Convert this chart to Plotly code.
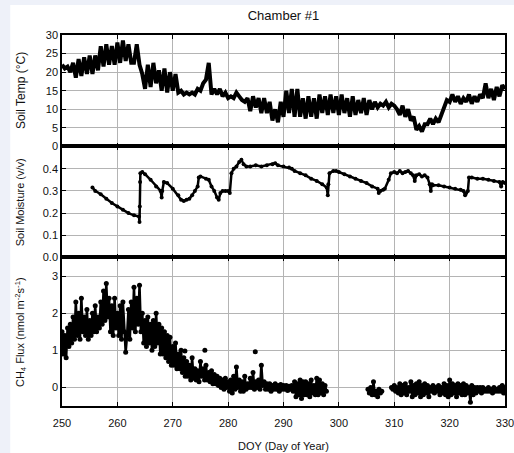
import plotly.graph_objects as go

# ---------------- data ----------------
# Soil temperature, sampled every half day from DOY 250 to 330
temp_doy = [250 + 0.5 * i for i in range(161)]
temp_c = [
    22, 21, 21.5, 20, 22.5, 18.5, 23.5, 19, 24, 19.5, 24.5, 19.5, 24.5, 20.5,
    27, 21.5, 27.5, 22, 27, 22, 28, 22.5, 28.5, 23, 27.5, 22.5, 22.5, 27.5,
    22, 19.5, 15.5, 22, 16, 22.5, 17, 20.5, 15, 21, 14.5, 20, 15, 19.5,
    14.5, 15, 14, 14.5, 14, 14.5, 14, 15.5, 15, 17, 18, 22.5, 14, 15.5,
    14, 15.5, 13.5, 14.5, 13, 13.5, 13, 14.5, 13.5, 12.5, 12, 13, 9.5, 13.5,
    10.5, 13, 9, 13, 9, 12, 7, 10, 6.5, 12, 8, 15, 9, 15.5,
    8, 15.5, 8, 13, 7.5, 13.5, 8, 13, 7.5, 14, 9, 13.5, 8.5, 14,
    9, 13.5, 8.5, 14, 9, 13, 8, 13.5, 8.5, 12.5, 9, 13, 8.5, 12.5,
    10, 12, 10.5, 11.5, 11, 12, 10.5, 11.5, 11, 10, 8.5, 11, 8, 10,
    7, 8, 4.5, 5.5, 4, 6, 6, 7.5, 6, 7.5, 6.5, 8.5, 10, 12.5,
    12, 14, 12, 13.5, 11.5, 13, 12, 14, 11.5, 13.5, 12, 14, 13, 17,
    13, 15.5, 12.5, 16, 13.5, 16.5, 15.5,
]

# Soil moisture
sm_doy = [
    255.5, 256, 257, 258, 259, 260, 261, 262, 263, 263.9, 264.0, 264.05, 264.1,
    264.15, 264.5, 265, 266, 267, 267.8, 268.0, 268.1, 268.4, 269, 270, 271,
    271.5, 272, 272.5, 273, 273.5, 274, 274.5, 274.7, 275, 276, 276.5, 277,
    277.5, 278, 278.3, 278.6, 279, 279.5, 280, 280.3, 280.6, 281, 281.5, 282,
    282.4, 282.8, 283.3, 284, 285, 286, 287, 288, 288.5, 289, 290, 291, 291.5,
    292, 293, 294, 295, 296, 297, 297.8, 298.0, 298.1, 298.3, 299, 299.5, 300,
    301, 302, 303, 304, 305, 306, 307, 307.2, 307.5, 308, 308.3, 309, 309.4,
    310, 310.5, 311, 311.5, 312, 312.5, 313, 313.4, 313.7, 314, 314.5, 315,
    315.5, 316, 316.4, 316.6, 316.8, 317, 318, 319, 320, 321, 322, 322.5,
    322.8, 323, 323.3, 323.5, 324, 325, 326, 327, 328, 329, 329.3, 329.6, 330,
]
sm_val = [
    0.315, 0.30, 0.285, 0.265, 0.245, 0.23, 0.215, 0.20, 0.19, 0.185, 0.16, 0.23, 0.34,
    0.38, 0.385, 0.375, 0.35, 0.32, 0.30, 0.27, 0.30, 0.34, 0.335, 0.31, 0.28,
    0.26, 0.255, 0.26, 0.265, 0.28, 0.30, 0.32, 0.36, 0.365, 0.355, 0.35, 0.32,
    0.30, 0.27, 0.26, 0.29, 0.30, 0.30, 0.30, 0.29, 0.38, 0.40, 0.41, 0.43,
    0.44, 0.42, 0.41, 0.41, 0.415, 0.41, 0.415, 0.42, 0.425, 0.415, 0.41, 0.405, 0.40,
    0.39, 0.38, 0.37, 0.355, 0.345, 0.33, 0.315, 0.28, 0.33, 0.38, 0.39, 0.39, 0.385,
    0.375, 0.365, 0.355, 0.345, 0.335, 0.32, 0.31, 0.29, 0.30, 0.305, 0.31, 0.35, 0.38,
    0.385, 0.38, 0.39, 0.38, 0.385, 0.39, 0.38, 0.37, 0.345, 0.37, 0.375, 0.365,
    0.37, 0.36, 0.33, 0.30, 0.33, 0.325, 0.325, 0.32, 0.315, 0.31, 0.305, 0.30,
    0.28, 0.29, 0.30, 0.36, 0.36, 0.355, 0.355, 0.35, 0.345, 0.34, 0.32, 0.34, 0.335,
]

# CH4 flux, quarter-day samples, three measurement periods
flux_a_start = 250.0
flux_a = [
    1.5, 0.9, 1.4, 0.8, 1.6, 1.1, 1.7, 1.2, 1.9, 1.3, 2.3, 1.4, 2.0, 1.3, 2.4, 1.5,
    1.9, 1.4, 2.1, 1.3, 1.8, 1.4, 2.0, 1.5, 2.2, 1.5, 1.9, 1.6, 2.3, 1.7, 2.6, 1.8,
    2.8, 1.9, 2.4, 1.5, 2.2, 1.4, 2.4, 1.6, 2.0, 1.4, 2.2, 1.3, 2.3, 1.5, 0.95, 1.4,
    2.1, 1.3, 2.3, 1.6, 2.7, 1.5, 2.4, 1.7, 2.75, 1.5, 2.0, 1.2, 1.8, 1.1, 1.9, 1.2,
    1.7, 1.0, 1.8, 1.1, 2.0, 1.2, 1.7, 0.9, 1.6, 0.9, 1.5, 0.8, 1.4, 0.7, 1.35, 0.6,
    1.1, 0.6, 1.2, 0.5, 0.9, 0.5, 1.0, 0.4, 0.8, 0.3, 0.7, 0.3, 0.6, 0.2, 0.8, 0.25,
    0.5, 0.2, 0.45, 0.15, 0.7, 0.3, 0.5, 0.2, 0.6, 0.2, 0.4, 0.15, 0.45, 0.1, 0.35, 0.1,
    0.3, 0.05, 0.25, 0.0, 0.2, -0.05, 0.25, 0.0, 0.15, -0.1, 0.2, -0.15, 0.3, -0.05, 0.55, 0.0,
    0.2, -0.1, 0.15, -0.1, 0.3, -0.05, 0.1, 0.0, 0.25, 0.0, 0.4, -0.05, 0.15, 0.0, 0.2, -0.05,
    0.6, 0.05, 0.15, -0.05, 0.1, -0.05, 0.1, -0.1, 0.05, -0.05, 0.1, -0.05, 0.05, -0.1, 0.08, -0.05,
    0.05, -0.05, 0.05, -0.08, 0.03, -0.05, 0.05, -0.1, 0.15, -0.25, 0.1, -0.2, 0.2, -0.3, 0.15, -0.2,
    0.15, -0.2, 0.1, -0.25, 0.2, -0.15, 0.05, -0.2, 0.25, -0.2, 0.2, -0.15, 0.1, -0.2, 0.05, -0.1,
]
flux_b_start = 305.25
flux_b = [-0.05, -0.15, 0.0, -0.2, 0.15, -0.2, -0.1, -0.25, -0.05, -0.15, -0.1]
flux_c_start = 309.5
flux_c = [
    0.0, -0.05,
    0.05, -0.1, 0.0, -0.15, 0.1, -0.2, 0.05, -0.15, 0.1, -0.2, 0.0, -0.1,
    0.15, -0.25, 0.05, -0.2, 0.1, -0.15, 0.15, -0.25, 0.05, -0.2, 0.1, -0.15,
    0.05, -0.25, 0.0, -0.1, 0.05, -0.15, 0.0, -0.1, 0.05, -0.2, 0.0, -0.15,
    0.1, -0.2, 0.05, -0.25, 0.2, -0.2, 0.1, -0.15, 0.05, -0.25, 0.1, -0.15,
    0.05, -0.2, 0.1, -0.2, 0.05, -0.15, 0.0, -0.4, 0.05, -0.2, 0.0, -0.15,
    0.0, -0.1, 0.0, -0.15, 0.0, -0.1, -0.05, -0.1, 0.0, -0.1, -0.05, -0.15,
    0.0, -0.1, -0.05, -0.1, 0.0, -0.1, 0.05, -0.15,
    0.0,
]
flux_out_doy = [272.2, 275.8, 284.9]
flux_out_val = [0.98, 1.0, 0.96]

x_ticks = [250, 260, 270, 280, 290, 300, 310, 320, 330]
temp_ticks = [0, 5, 10, 15, 20, 25, 30]
sm_ticks = [0.0, 0.1, 0.2, 0.3, 0.4]
flux_ticks = [0, 1, 2, 3]

# ---------------- build ----------------
def seg(start, vals):
    return [start + 0.25 * i for i in range(len(vals))]

fx, fy = [], []
for st, vals in ((flux_a_start, flux_a), (flux_b_start, flux_b), (flux_c_start, flux_c)):
    fx += seg(st, vals) + [None]
    fy += list(vals) + [None]

BLACK = "#000000"
fig = go.Figure()
fig.add_trace(go.Scatter(x=temp_doy, y=temp_c, mode="lines",
                         line=dict(color=BLACK, width=4), xaxis="x3", yaxis="y3"))
fig.add_trace(go.Scatter(x=sm_doy, y=sm_val, mode="lines+markers",
                         line=dict(color=BLACK, width=2.5), marker=dict(color=BLACK, size=4),
                         xaxis="x2", yaxis="y2"))
fig.add_trace(go.Scatter(x=fx, y=fy, mode="lines+markers", connectgaps=False,
                         line=dict(color=BLACK, width=2.5), marker=dict(color=BLACK, size=5),
                         xaxis="x", yaxis="y"))
fig.add_trace(go.Scatter(x=flux_out_doy, y=flux_out_val, mode="markers",
                         marker=dict(color=BLACK, size=5), xaxis="x", yaxis="y"))

FONT = "Liberation Sans, Arial, sans-serif"
GRID = "#b4b4b4"
OUTER = "#eef1f9"
common_x = dict(range=[250, 330], tickvals=x_ticks, showgrid=True, gridcolor=GRID, gridwidth=1,
                showline=True, linecolor=BLACK, linewidth=1.5, mirror="ticks",
                ticks="inside", ticklen=4, tickcolor=BLACK, zeroline=False)
common_y = dict(showgrid=True, gridcolor=GRID, gridwidth=1, showline=True, linecolor=BLACK,
                linewidth=1.5, mirror="ticks", ticks="inside", ticklen=4, tickcolor=BLACK,
                zeroline=False, tickfont=dict(size=11))

d1, d2 = 0.4003, 0.6995
fig.update_layout(
    width=514, height=453,
    margin=dict(l=62, r=7, t=35, b=47),
    paper_bgcolor="white", plot_bgcolor="white",
    showlegend=False,
    font=dict(family=FONT, size=11, color="#111111"),
    title=dict(text="Chamber #1", x=0.5, xref="paper", xanchor="center",
               y=1 - 15 / 453, yanchor="middle", font=dict(size=13, color="#111111")),
    xaxis=dict(**common_x, anchor="y", showticklabels=True, tickfont=dict(size=11),
               ticklabelstandoff=6, ticklabeloverflow="allow", automargin=False),
    xaxis2=dict(**common_x, anchor="y2", matches="x", showticklabels=False),
    xaxis3=dict(**common_x, anchor="y3", matches="x", showticklabels=False),
    yaxis=dict(**common_y, domain=[0, d1], range=[-0.5, 3.5], tickvals=flux_ticks, anchor="x"),
    yaxis2=dict(**common_y, domain=[d1, d2], range=[0, 0.5], tickvals=sm_ticks,
                ticktext=["%.1f" % v for v in sm_ticks], anchor="x2"),
    yaxis3=dict(**common_y, domain=[d2, 1], range=[0, 30], tickvals=temp_ticks, anchor="x3"),
    shapes=[
        dict(type="rect", xref="paper", yref="paper", x0=-0.2, x1=(10 - 62) / 445,
             y0=-0.2, y1=1.2, fillcolor=OUTER, line=dict(width=0), layer="below"),
        dict(type="rect", xref="paper", yref="paper", x0=-0.2, x1=1.1,
             y0=(406 - 5) / 371, y1=1.2, fillcolor=OUTER, line=dict(width=0), layer="below"),
    ],
    annotations=[
        dict(text="DOY (Day of Year)", xref="paper", yref="paper", x=0.5, y=-(446 - 406) / 371,
             xanchor="center", yanchor="middle", showarrow=False, font=dict(size=11)),
        dict(text="Soil Temp (°C)", xref="paper", yref="paper", x=(20 - 62) / 446,
             y=(d2 + 1) / 2, textangle=-90, xanchor="center", yanchor="middle",
             showarrow=False, font=dict(size=12)),
        dict(text="Soil Moisture (v/v)", xref="paper", yref="paper", x=(20 - 62) / 446,
             y=(d1 + d2) / 2, textangle=-90, xanchor="center", yanchor="middle",
             showarrow=False, font=dict(size=11)),
        dict(text="CH<sub>4</sub> Flux (nmol m<sup>-2</sup>s<sup>-1</sup>)", xref="paper",
             yref="paper", x=(20 - 62) / 446, y=d1 / 2, textangle=-90, xanchor="center",
             yanchor="middle", showarrow=False, font=dict(size=11)),
    ],
)

fig.write_html(
    "out.html",
    config={"displayModeBar": False},
    post_script=(
        "document.documentElement.style.overflow='hidden';"
        "document.body.style.margin='0';document.body.style.overflow='hidden';"
    ),
)
